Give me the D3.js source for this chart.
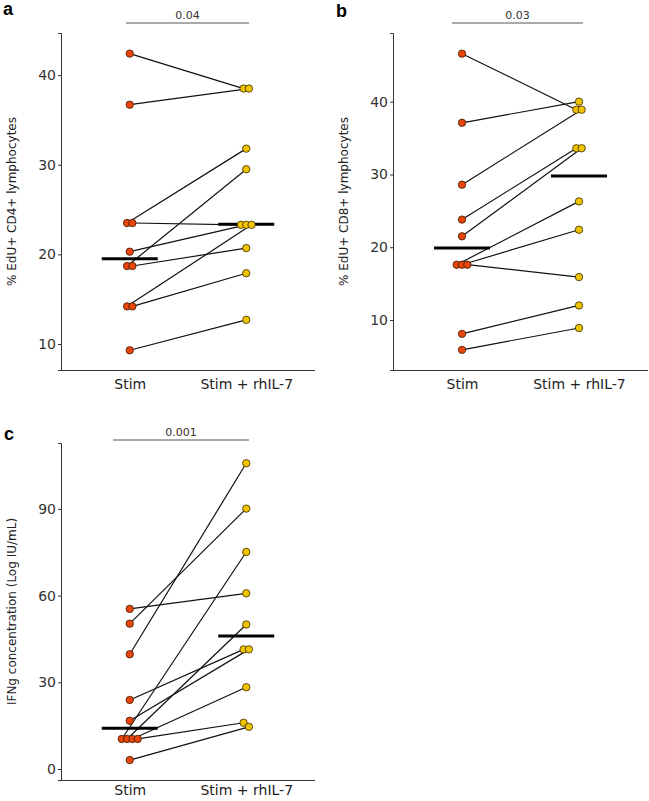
<!DOCTYPE html>
<html>
<head>
<meta charset="utf-8">
<script src="https://cdn.jsdelivr.net/npm/d3@7"></script>
<style>
  html, body { margin: 0; padding: 0; background: #fff; }
  svg { display: block; }
</style>
</head>
<body>
<svg id="chart" width="649" height="801"></svg>
<script>
// ---------- DATA ----------
const groups = ["Stim", "Stim + rhIL-7"];

// Panel a: % EdU+ CD4+ lymphocytes (paired: stim[i] -> il7[i])
const cd4Stim = [42.4, 36.7, 23.5, 23.5, 18.7, 20.3, 18.7, 14.2, 14.2, 9.3];
const cd4Il7  = [38.5, 38.5, 31.8, 23.3, 29.5, 23.3, 20.7, 23.3, 17.9, 12.7];
const cd4Medians = [19.5, 23.35];
const cd4Ticks = [10, 20, 30, 40];
const cd4P = "0.04";

// Panel b: % EdU+ CD8+ lymphocytes
const cd8Stim = [46.6, 37.1, 28.6, 23.8, 21.5, 17.6, 17.6, 17.6, 8.1, 5.9];
const cd8Il7  = [38.9, 40.0, 38.9, 33.6, 33.6, 26.3, 22.4, 15.9, 12.0, 8.9];
const cd8Medians = [19.9, 29.8];
const cd8Ticks = [10, 20, 30, 40];
const cd8P = "0.03";

// Panel c: IFNg concentration (Log IU/mL)
const ifnStim = [55.4, 50.3, 39.7, 23.9, 16.7, 10.4, 10.4, 10.4, 10.4, 3.1];
const ifnIl7  = [60.8, 90.1, 105.8, 41.4, 41.4, 75.1, 50.0, 28.3, 16.0, 14.6];
const ifnMedians = [14.1, 46.0];
const ifnTicks = [0, 30, 60, 90];
const ifnP = "0.001";

// ---------- LAYOUT ----------
const panels = [
  { label: "a", title: "% EdU+ CD4+ lymphocytes", stim: cd4Stim, il7: cd4Il7, med: cd4Medians, ticks: cd4Ticks, p: cd4P,
    x0: 61, x1: 315, yTop: 33, yBot: 370, domain: [7.1, 44.7], labelX: 3, labelY: 15, titleX: 16, sigY: 23, sigX: [126, 249], xPad: 9 },
  { label: "b", title: "% EdU+ CD8+ lymphocytes", stim: cd8Stim, il7: cd8Il7, med: cd8Medians, ticks: cd8Ticks, p: cd8P,
    x0: 393, x1: 648, yTop: 33, yBot: 370, domain: [3.13, 49.44], labelX: 336, labelY: 17, titleX: 348, sigY: 23, sigX: [452, 583], xPad: 9 },
  { label: "c", title: "IFNg concentration (Log IU/mL)", stim: ifnStim, il7: ifnIl7, med: ifnMedians, ticks: ifnTicks, p: ifnP,
    x0: 61, x1: 315, yTop: 443, yBot: 780, domain: [-3.8, 112.8], labelX: 4, labelY: 440, titleX: 16, sigY: 440, sigX: [113, 249], xPad: 5 }
];

const stimFill = "#E8440C";
const il7Fill = "#F0C300";
const fontFam = "'DejaVu Sans', Verdana, sans-serif";

const svg = d3.select("#chart");

function jitter(values, y, tol, step) {
  // spread points with (nearly) the same pixel height horizontally
  const idx = values.map((v, i) => i).sort((a, b) => values[a] - values[b]);
  const offs = new Array(values.length).fill(0);
  let cluster = [idx[0]];
  const flush = () => {
    const n = cluster.length;
    const sorted = cluster.slice().sort((a, b) => a - b);
    sorted.forEach((k, j) => { offs[k] = (j - (n - 1) / 2) * step; });
  };
  for (let t = 1; t < idx.length; t++) {
    const prev = cluster[cluster.length - 1];
    if (Math.abs(y(values[idx[t]]) - y(values[prev])) < tol) cluster.push(idx[t]);
    else { flush(); cluster = [idx[t]]; }
  }
  flush();
  return offs;
}

panels.forEach(P => {
  const g = svg.append("g");
  const x = d3.scalePoint().domain(groups).range([P.x0, P.x1]).padding(0.59);
  const y = d3.scaleLinear().domain(P.domain).range([P.yBot, P.yTop]);

  // Axes
  const yAxis = d3.axisLeft(y).tickValues(P.ticks).tickSize(3).tickPadding(2).tickFormat(d3.format("d"));
  const ya = g.append("g").attr("transform", `translate(${P.x0},0)`).call(yAxis);
  ya.select(".domain").attr("stroke", "#333").attr("stroke-width", 1);
  ya.selectAll(".tick line").attr("stroke", "#333");
  ya.selectAll(".tick text").attr("font-family", fontFam).attr("font-size", 14).attr("fill", "#333");

  const xAxis = d3.axisBottom(x).tickSize(0).tickPadding(P.xPad);
  const xa = g.append("g").attr("transform", `translate(0,${P.yBot})`).call(xAxis);
  xa.select(".domain").attr("stroke", "#333").attr("stroke-width", 1).attr("d", `M${P.x0},0.5H${P.x1}`);
  xa.selectAll(".tick text").attr("font-family", fontFam).attr("font-size", 14).attr("fill", "#222");

  // Y title
  g.append("text")
    .attr("transform", `translate(${P.titleX},${(P.yTop + P.yBot) / 2}) rotate(-90)`)
    .attr("text-anchor", "middle")
    .attr("font-family", fontFam).attr("font-size", 12).attr("fill", "#222")
    .text(P.title);

  // Panel label
  g.append("text").attr("x", P.labelX).attr("y", P.labelY)
    .attr("font-family", "'Liberation Sans', Arial, sans-serif").attr("font-weight", "bold")
    .attr("font-size", 18).attr("fill", "#000").text(P.label);

  // Significance bracket
  g.append("line").attr("x1", P.sigX[0]).attr("x2", P.sigX[1]).attr("y1", P.sigY).attr("y2", P.sigY)
    .attr("stroke", "#555").attr("stroke-width", 1);
  g.append("text").attr("x", (P.sigX[0] + P.sigX[1]) / 2).attr("y", P.sigY - 4)
    .attr("text-anchor", "middle").attr("font-family", fontFam).attr("font-size", 11).attr("fill", "#333")
    .text(P.p);

  const offS = jitter(P.stim, y, 7, 5.3);
  const offI = jitter(P.il7, y, 7, 5.3);
  const pairs = P.stim.map((s, i) => ({ s, t: P.il7[i], os: offS[i], ot: offI[i] }));

  // Paired lines
  g.selectAll(".pair").data(pairs).join("line")
    .attr("x1", d => x(groups[0]) + d.os).attr("y1", d => y(d.s))
    .attr("x2", d => x(groups[1]) + d.ot).attr("y2", d => y(d.t))
    .attr("stroke", "#111").attr("stroke-width", 1.2);

  // Median bars
  g.selectAll(".med").data(P.med).join("line")
    .attr("x1", (d, i) => x(groups[i]) - 28).attr("x2", (d, i) => x(groups[i]) + 28)
    .attr("y1", d => y(d)).attr("y2", d => y(d))
    .attr("stroke", "#000").attr("stroke-width", 3);

  // Points
  g.selectAll(".ps").data(pairs).join("circle")
    .attr("cx", d => x(groups[0]) + d.os).attr("cy", d => y(d.s)).attr("r", 3.7)
    .attr("fill", stimFill).attr("stroke", "#3a1a00").attr("stroke-width", 0.8);
  g.selectAll(".pi").data(pairs).join("circle")
    .attr("cx", d => x(groups[1]) + d.ot).attr("cy", d => y(d.t)).attr("r", 3.7)
    .attr("fill", il7Fill).attr("stroke", "#3a2a00").attr("stroke-width", 0.8);
});
</script>
</body>
</html>
